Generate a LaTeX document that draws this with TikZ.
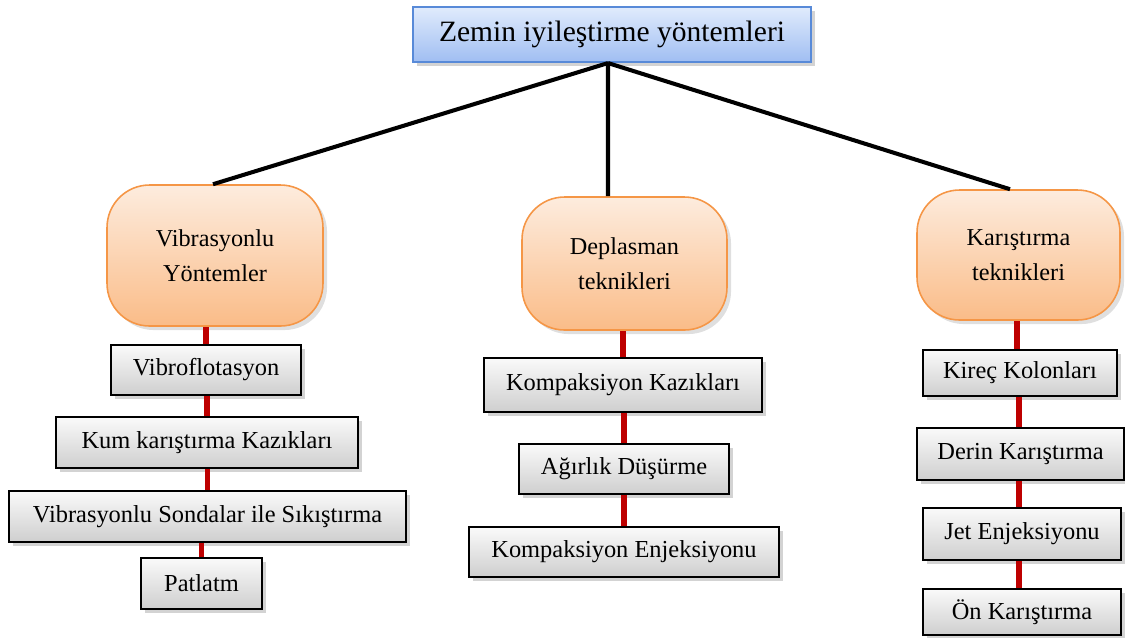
\documentclass[tikz,border=0pt]{standalone}
\usepackage{fontspec}
\setmainfont{Liberation Serif}
\usetikzlibrary{shapes,shadows,positioning}

\definecolor{titletop}{RGB}{224,235,252}
\definecolor{titlebot}{RGB}{160,190,242}
\definecolor{titleline}{RGB}{88,138,216}
\definecolor{grouptop}{RGB}{253,236,222}
\definecolor{groupbot}{RGB}{250,188,136}
\definecolor{groupline}{RGB}{245,150,70}
\definecolor{linkred}{RGB}{190,0,0}

\begin{document}
\begin{tikzpicture}[x=0.02cm, y=-0.02cm]

% Define styles
\tikzstyle{root} = [rectangle, minimum width=7.96cm, minimum height=1.1cm, text centered, draw=titleline, line width=1.2pt, top color=titletop, bottom color=titlebot, drop shadow={opacity=0.35}, font=\fontsize{16.8}{20}\selectfont]
\tikzstyle{group} = [rectangle, rounded corners=0.85cm, align=center, draw=groupline, line width=0.9pt, top color=grouptop, bottom color=groupbot, drop shadow={opacity=0.25}, font=\fontsize{13.8}{20}\selectfont]
\tikzstyle{method} = [rectangle, minimum height=1.02cm, text centered, draw=black, line width=1.1pt, top color=gray!4, bottom color=gray!38, drop shadow={opacity=0.35}, font=\fontsize{13.9}{16}\selectfont]
\tikzstyle{branch} = [line width=2.3pt, black]
\tikzstyle{link} = [line width=3.4pt, linkred]

\useasboundingbox (0,0) rectangle (1125,637);

% TITLE
\node (title) [root] at (612,34.5) {Zemin iyileştirme yöntemleri};

% GROUPS
\node (vib) [group, minimum width=4.32cm, minimum height=2.82cm] at (215,255.5) {Vibrasyonlu\\Yöntemler};
\node (depl) [group, minimum width=4.1cm, minimum height=2.66cm] at (624.5,263.5) {Deplasman\\teknikleri};
\node (kar) [group, minimum width=4.06cm, minimum height=2.6cm] at (1018.5,255) {Karıştırma\\teknikleri};

% Title to groups
\draw [branch] ([xshift=-0.08cm]title.south) -- ([xshift=-0.04cm]vib.north);
\draw [branch] ([xshift=-0.08cm]title.south) -- ([xshift=-0.33cm]depl.north);
\draw [branch] ([xshift=-0.08cm]title.south) -- ([xshift=-0.17cm]kar.north);

% Vibrasyonlu methods
\node (v1) [method, minimum width=3.8cm, minimum height=1cm] at (206,370) {Vibroflotasyon};
\node (v2) [method, minimum width=6.04cm] at (207,442.5) {Kum karıştırma Kazıkları};
\node (v3) [method, minimum width=7.94cm] at (207.5,516.5) {Vibrasyonlu Sondalar ile Sıkıştırma};
\node (v4) [method, minimum width=2.42cm] at (201.5,583.5) {Patlatm};

% Deplasman methods
\node (d1) [method, minimum width=5.56cm, minimum height=1.08cm] at (623,385) {Kompaksiyon Kazıkları};
\node (d2) [method, minimum width=4.2cm, minimum height=1cm] at (624,469) {Ağırlık Düşürme};
\node (d3) [method, minimum width=6.2cm, minimum height=1cm] at (624,552) {Kompaksiyon Enjeksiyonu};

% Karistirma methods
\node (k1) [method, minimum width=3.88cm, minimum height=0.92cm] at (1020,373) {Kireç Kolonları};
\node (k2) [method, minimum width=4.14cm, minimum height=1.04cm] at (1020.5,454) {Derin Karıştırma};
\node (k3) [method, minimum width=3.96cm, minimum height=1.04cm] at (1022,534) {Jet Enjeksiyonu};
\node (k4) [method, minimum width=3.96cm, minimum height=0.92cm] at (1022,612) {Ön Karıştırma};

% Red links
\draw [link] (v1.north) -- (v1.north |- vib.south);
\draw [link] (v2.north) -- (v2.north |- v1.south);
\draw [link] (v3.north) -- (v3.north |- v2.south);
\draw [link] (v4.north) -- (v4.north |- v3.south);

\draw [link] (d1.north) -- (d1.north |- depl.south);
\draw [link] (d2.north) -- (d2.north |- d1.south);
\draw [link] (d3.north) -- (d3.north |- d2.south);

\draw [link] ([xshift=-0.06cm]k1.north) -- ([xshift=-0.06cm]k1.north |- kar.south);
\draw [link] ([xshift=-0.03cm]k2.north) -- ([xshift=-0.03cm]k2.north |- k1.south);
\draw [link] ([xshift=-0.06cm]k3.north) -- ([xshift=-0.06cm]k3.north |- k2.south);
\draw [link] ([xshift=-0.06cm]k4.north) -- ([xshift=-0.06cm]k4.north |- k3.south);

\end{tikzpicture}
\end{document}
